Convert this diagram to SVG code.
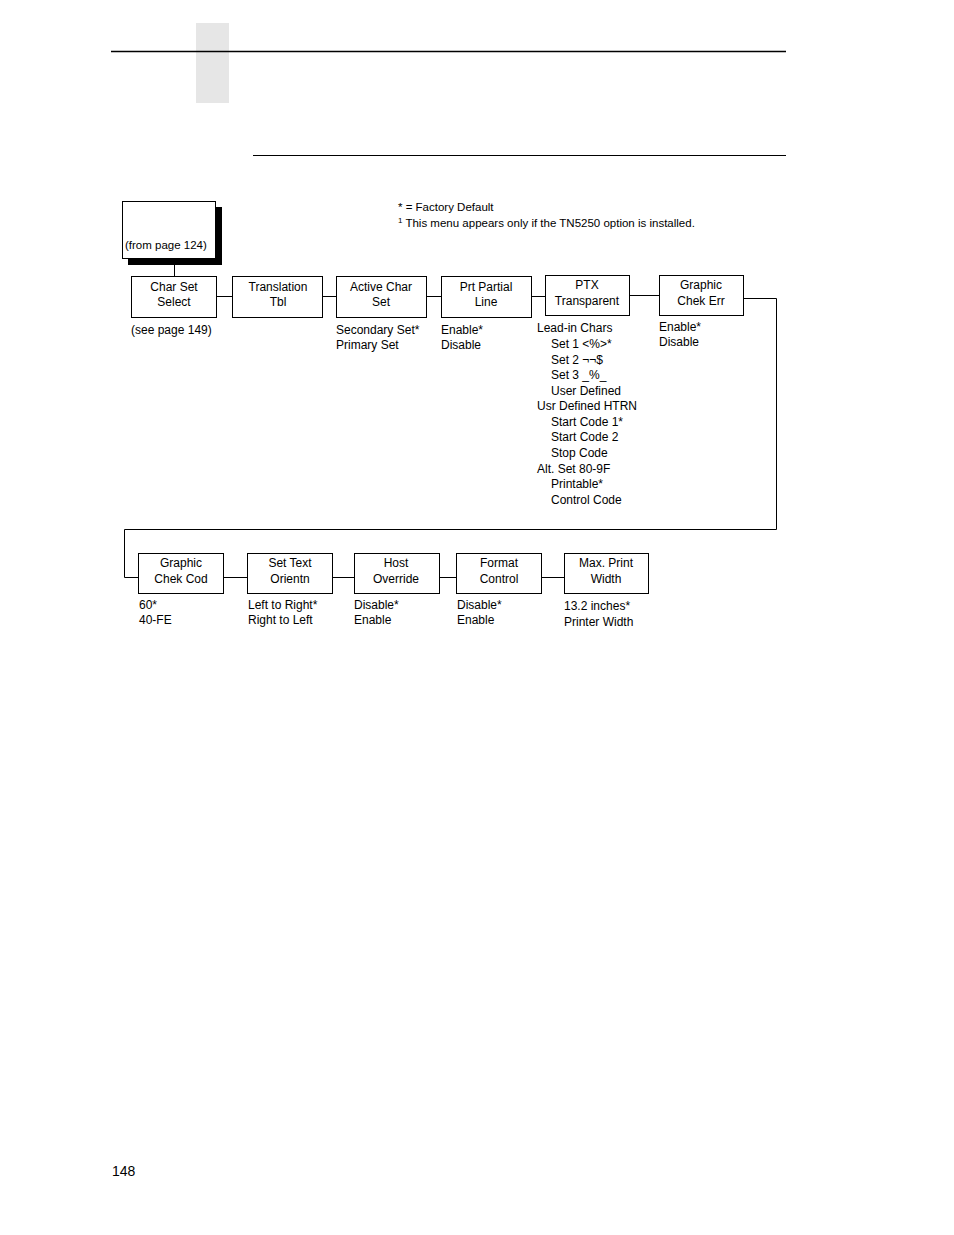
<svg xmlns="http://www.w3.org/2000/svg" width="954" height="1235" viewBox="0 0 954 1235">
<style>
text{font-family:"Liberation Sans",Arial,sans-serif;font-size:12px;fill:#000}
.b{fill:#fff;stroke:#000;stroke-width:1}
.c{text-anchor:middle}
.l{fill:none;stroke:#000;stroke-width:1}
</style>
<rect width="954" height="1235" fill="#fff"/>
<rect x="196" y="23" width="33" height="80" fill="#e6e6e6"/>
<line x1="111" y1="51.5" x2="786" y2="51.5" stroke="#000" stroke-width="1.5"/>
<line x1="253" y1="155.5" x2="786" y2="155.5" stroke="#000" stroke-width="1"/>
<text x="398" y="211" style="font-size:11.5px">* = Factory Default</text>
<text x="398" y="227" style="font-size:11.5px"><tspan dy="-4" style="font-size:8px">1</tspan><tspan dx="3" dy="4">This menu appears only if the TN5250 option is installed.</tspan></text>
<g id="connectors" class="l">
<path d="M174.5 258V276M216 296.5H232M322 296.5H336M426 296.5H441M531 296.5H545M629 295.5H659M743 298.5H776.5V529.5H124.5V577.5H138M223 577.5H247M332 577.5H354M439 577.5H456M541 577.5H564"/>
</g>
<g id="from">
<rect x="128" y="207" width="94" height="58" fill="#000"/>
<rect class="b" x="122.5" y="201.5" width="93" height="57"/>
<text x="125" y="249" style="font-size:11.5px">(from page 124)</text>
</g>
<g id="n1"><rect class="b" x="131.5" y="276.5" width="85" height="41"/><text class="c" x="174" y="291">Char Set</text><text class="c" x="174" y="306">Select</text><text x="131" y="334">(see page 149)</text></g>
<g id="n2"><rect class="b" x="232.5" y="276.5" width="90" height="41"/><text class="c" x="278" y="291">Translation</text><text class="c" x="278" y="306">Tbl</text></g>
<g id="n3"><rect class="b" x="336.5" y="276.5" width="90" height="41"/><text class="c" x="381" y="291">Active Char</text><text class="c" x="381" y="306">Set</text><text x="336" y="334">Secondary Set*</text><text x="336" y="349">Primary Set</text></g>
<g id="n4"><rect class="b" x="441.5" y="276.5" width="90" height="41"/><text class="c" x="486" y="291">Prt Partial</text><text class="c" x="486" y="306">Line</text><text x="441" y="334">Enable*</text><text x="441" y="349">Disable</text></g>
<g id="n5"><rect class="b" x="545.5" y="275.5" width="84" height="40"/><text class="c" x="587" y="289">PTX</text><text class="c" x="587" y="305">Transparent</text>
<text x="537" y="332">Lead-in Chars</text><text x="551" y="348">Set 1 &lt;%&gt;*</text><text x="551" y="364">Set 2 ¬¬$</text><text x="551" y="379">Set 3 _%_</text><text x="551" y="395">User Defined</text><text x="537" y="410">Usr Defined HTRN</text><text x="551" y="426">Start Code 1*</text><text x="551" y="441">Start Code 2</text><text x="551" y="457">Stop Code</text><text x="537" y="473">Alt. Set 80-9F</text><text x="551" y="488">Printable*</text><text x="551" y="504">Control Code</text></g>
<g id="n6"><rect class="b" x="659.5" y="275.5" width="84" height="40"/><text class="c" x="701" y="289">Graphic</text><text class="c" x="701" y="305">Chek Err</text><text x="659" y="331">Enable*</text><text x="659" y="346">Disable</text></g>
<g id="n7"><rect class="b" x="138.5" y="553.5" width="85" height="40"/><text class="c" x="181" y="567">Graphic</text><text class="c" x="181" y="583">Chek Cod</text><text x="139" y="609">60*</text><text x="139" y="624">40-FE</text></g>
<g id="n8"><rect class="b" x="247.5" y="553.5" width="85" height="40"/><text class="c" x="290" y="567">Set Text</text><text class="c" x="290" y="583">Orientn</text><text x="248" y="609">Left to Right*</text><text x="248" y="624">Right to Left</text></g>
<g id="n9"><rect class="b" x="354.5" y="553.5" width="85" height="40"/><text class="c" x="396" y="567">Host</text><text class="c" x="396" y="583">Override</text><text x="354" y="609">Disable*</text><text x="354" y="624">Enable</text></g>
<g id="n10"><rect class="b" x="456.5" y="553.5" width="85" height="40"/><text class="c" x="499" y="567">Format</text><text class="c" x="499" y="583">Control</text><text x="457" y="609">Disable*</text><text x="457" y="624">Enable</text></g>
<g id="n11"><rect class="b" x="564.5" y="553.5" width="84" height="40"/><text class="c" x="606" y="567">Max. Print</text><text class="c" x="606" y="583">Width</text><text x="564" y="610">13.2 inches*</text><text x="564" y="626">Printer Width</text></g>
<text x="112" y="1176" style="font-size:14px">148</text>
</svg>
